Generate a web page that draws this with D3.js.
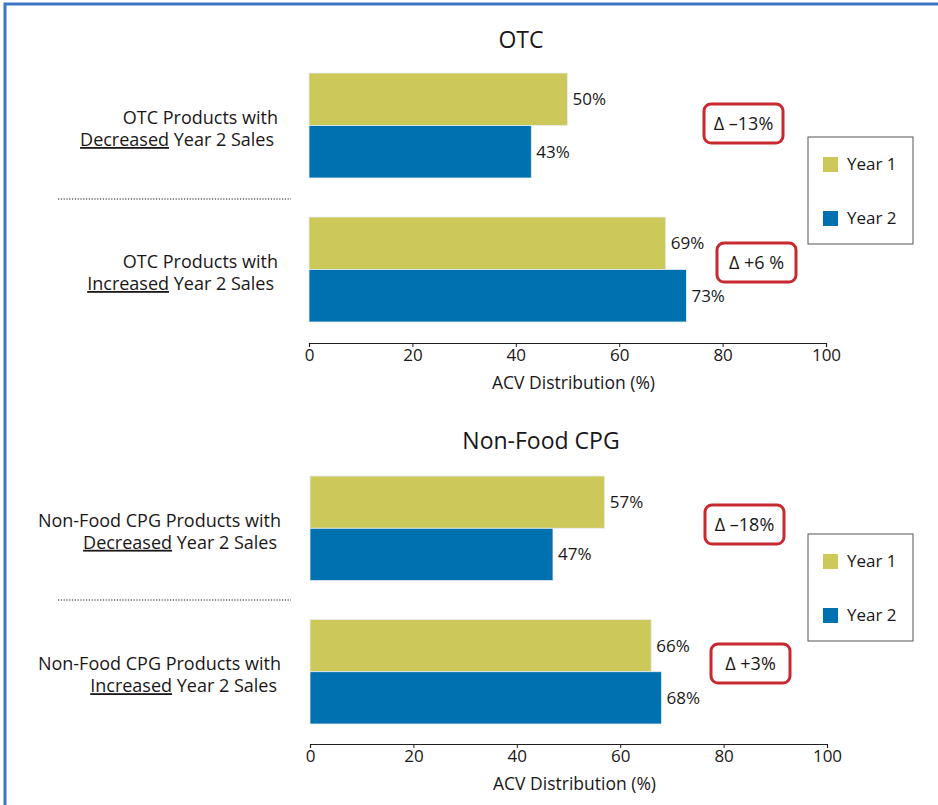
<!DOCTYPE html>
<html lang="en">
<head>
    <meta charset="UTF-8" />
    <title>ACV Distribution</title>
    <script src="https://d3js.org/d3.v7.min.js"></script>
    <style>
        body {
            margin: 0;
            background: #fff;
            font-family: 'Open Sans', sans-serif;
        }
        .tick text { font-size: 17px; fill: #1a1718; font-family: 'Open Sans', sans-serif; }
        .domain, .tick line { stroke: #231f20; }
    </style>
</head>
<body>
    <script>
        // data
        const panels = ['OTC', 'Non-Food CPG'];
        const groups = ['Decreased', 'Increased'];
        const years = ['Year 1', 'Year 2'];
        const otcYear1 = [50, 69];
        const otcYear2 = [43, 73];
        const cpgYear1 = [57, 66];
        const cpgYear2 = [47, 68];
        const deltas = [['\u201313%', '+6 %'], ['\u201318%', '+3%']];
        const xTicks = [0, 20, 40, 60, 80, 100];

        const colors = { 'Year 1': '#cdc85a', 'Year 2': '#0071b0' };
        const ink = '#1a1718';
        const W = 938, H = 805;

        const svg = d3.select('body').append('svg').attr('width', W).attr('height', H);

        // frame (left and top edges)
        svg.append('path').attr('d', 'M5,805V4H938').attr('fill', 'none')
            .attr('stroke', '#3a76c4').attr('stroke-width', 3);

        const layout = [
            { x0: 309, x1: 826, top: 73, bottom: 322, axisY: 343, titleY: 48, titleX: 521, labelX: 278,
              sepY: 199, legendY: 137, deltaBoxes: [[704, 104], [717, 243]] },
            { x0: 310, x1: 827, top: 476, bottom: 724, axisY: 744, titleY: 449, titleX: 541, labelX: 281,
              sepY: 600, legendY: 534, deltaBoxes: [[705, 505], [711, 644]] }
        ];
        const values = [[otcYear1, otcYear2], [cpgYear1, cpgYear2]];

        panels.forEach((name, pi) => {
            const L = layout[pi];
            const g = svg.append('g');
            const x = d3.scaleLinear().domain([0, 100]).range([L.x0, L.x1]);
            const y = d3.scaleBand().domain(groups).range([L.top, L.bottom]).paddingInner(0.271);
            const ySub = d3.scaleBand().domain(years).range([0, y.bandwidth()]);

            const rows = [];
            groups.forEach((grp, gi) => {
                years.forEach((yr, yi) => rows.push({ grp, yr, v: values[pi][yi][gi] }));
            });

            g.selectAll('rect.bar').data(rows).enter().append('rect')
                .attr('class', 'bar')
                .attr('x', x(0))
                .attr('y', d => y(d.grp) + ySub(d.yr))
                .attr('width', d => x(d.v) - x(0))
                .attr('height', ySub.bandwidth())
                .attr('fill', d => colors[d.yr])
                .attr('stroke', '#e8eef4').attr('stroke-width', 0.8);

            g.selectAll('text.val').data(rows).enter().append('text')
                .attr('x', d => x(d.v) + 5)
                .attr('y', d => y(d.grp) + ySub(d.yr) + ySub.bandwidth() / 2 + 6)
                .attr('font-size', 17).attr('fill', ink)
                .text(d => d.v + '%');

            // axis
            const axis = g.append('g').attr('transform', `translate(0,${L.axisY})`)
                .call(d3.axisBottom(x).tickValues(xTicks).tickSize(4).tickPadding(2));
            axis.select('.domain').attr('stroke-width', 1.2);
            g.append('text').attr('x', (L.x0 + L.x1) / 2 + 6).attr('y', L.axisY + 46)
                .attr('text-anchor', 'middle').attr('font-size', 17.5).attr('fill', ink)
                .text('ACV Distribution (%)');

            // title
            g.append('text').attr('x', L.titleX).attr('y', L.titleY)
                .attr('text-anchor', 'middle').attr('font-size', 23).attr('fill', ink)
                .text(name);

            // category labels
            groups.forEach(grp => {
                const cy = y(grp) + y.bandwidth() / 2;
                const t = g.append('text').attr('x', L.labelX).attr('text-anchor', 'end')
                    .attr('font-size', 18).attr('fill', ink);
                t.append('tspan').attr('x', L.labelX).attr('y', cy - 1.5).text(name + ' Products with');
                const t2 = t.append('tspan').attr('x', L.labelX - 4).attr('y', cy + 20.5);
                t2.append('tspan').attr('text-decoration', 'underline').text(grp);
                t2.append('tspan').text(' Year 2 Sales');
            });

            // dotted separator
            g.append('line').attr('x1', 58).attr('x2', 291).attr('y1', L.sepY).attr('y2', L.sepY)
                .attr('stroke', ink).attr('stroke-width', 1).attr('stroke-dasharray', '1.2,1.6');

            // delta boxes
            L.deltaBoxes.forEach((b, i) => {
                g.append('rect').attr('x', b[0]).attr('y', b[1]).attr('width', 79).attr('height', 39)
                    .attr('rx', 7).attr('fill', '#fff').attr('stroke', '#c8282f').attr('stroke-width', 3);
                g.append('text').attr('x', b[0] + 39.5).attr('y', b[1] + 26)
                    .attr('text-anchor', 'middle').attr('font-size', 18).attr('fill', ink)
                    .text('\u0394 ' + deltas[pi][i]);
            });

            // legend
            const lg = g.append('g').attr('transform', `translate(808,${L.legendY})`);
            lg.append('rect').attr('width', 105).attr('height', 107)
                .attr('fill', '#fff').attr('stroke', '#555').attr('stroke-width', 1);
            years.forEach((yr, i) => {
                lg.append('rect').attr('x', 15).attr('y', 20 + i * 54).attr('width', 15).attr('height', 15)
                    .attr('fill', colors[yr]);
                lg.append('text').attr('x', 39).attr('y', 33 + i * 54)
                    .attr('font-size', 17).attr('fill', ink).text(yr);
            });
        });
    </script>
</body>
</html>
